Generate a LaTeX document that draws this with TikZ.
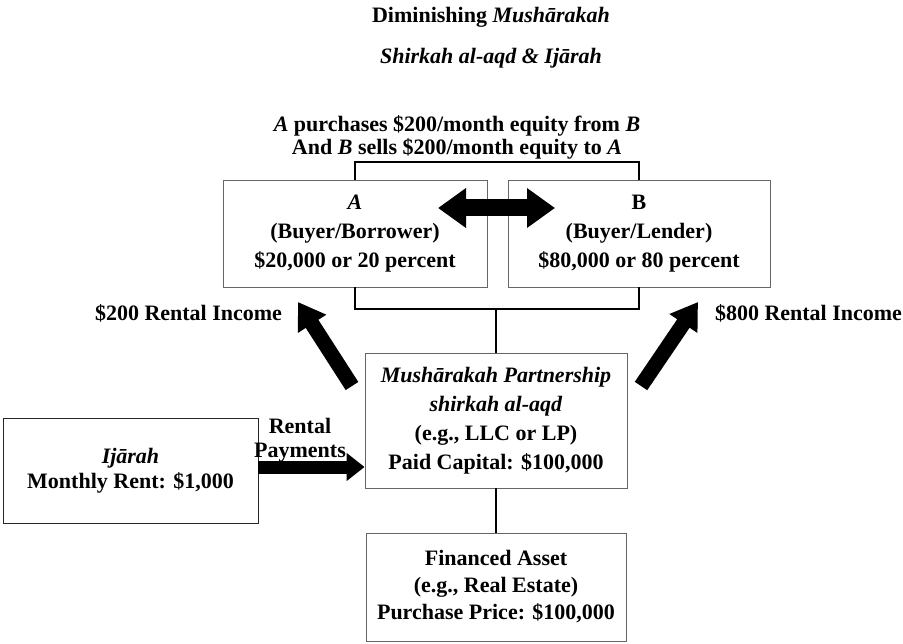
\documentclass[tikz,border=0pt]{standalone}
\usepackage{fontspec}
\setmainfont{Liberation Serif}
\usetikzlibrary{arrows.meta}
\begin{document}
\begin{tikzpicture}[x=1pt,y=-1pt,
  every node/.style={font=\fontsize{22}{29}\selectfont\bfseries, inner sep=0pt, align=center},
  box/.style={draw=black!60, line width=0.9pt, fill=white},
  conn/.style={line width=1.8pt},
  dblarrow/.style={line width=17pt, {Triangle[length=28pt,width=38pt]}-{Triangle[length=28pt,width=38pt]}},
  diagarrow/.style={line width=15pt, -{Triangle[length=26pt,width=32pt]}},
  payarrow/.style={line width=13pt, -{Triangle[length=18pt,width=27pt]}}
]
\useasboundingbox (0,0) rectangle (903,644);

% titles
\node (t1) at (491,17) {Diminishing \textit{Mushārakah}};
\node (t2) at (491,58) {\textit{Shirkah al-aqd \& Ijārah}};
\node[font=\fontsize{22}{23}\selectfont\bfseries] (t3) at (457,137.5)
  {\textit{A} purchases \$200/month equity from \textit{B}\\And \textit{B} sells \$200/month equity to \textit{A}};

% boxes
\node[box, minimum width=264pt, minimum height=107pt] (A) at (355,233.5)
  {\textit{A}\\(Buyer/Borrower)\\\$20,000 or 20 percent};
\node[box, minimum width=262pt, minimum height=107pt] (B) at (639,233.5)
  {B\\(Buyer/Lender)\\\$80,000 or 80 percent};
\node[box, minimum width=262pt, minimum height=135pt] (P) at (496,420.5)
  {\textit{Mushārakah Partnership}\\\textit{shirkah al-aqd}\\(e.g., LLC or LP)\\Paid Capital: \$100,000};
\node[box, minimum width=260pt, minimum height=108pt, font=\fontsize{22}{27}\selectfont\bfseries] (F) at (496,587)
  {Financed Asset\\(e.g., Real Estate)\\Purchase Price: \$100,000};
\node[box, draw=black!85, minimum width=255pt, minimum height=105pt, font=\fontsize{22}{25}\selectfont\bfseries] (I) at (130.5,470.5)
  {\textit{Ijārah}\\Monthly Rent: \$1,000};

% labels
\node (l200) at (188.5,313) {\$200 Rental Income};
\node (l800) at (808.5,313) {\$800 Rental Income};
\node[font=\fontsize{22}{24}\selectfont\bfseries] (lpay) at (300,440) {Rental\\Payments};

% connectors
\coordinate (tb) at (496,162);
\coordinate (bb) at (496,309);
\draw[conn] (A.north) |- (tb) -| (B.north);
\draw[conn] (A.south) |- (bb) -| (B.south);
\draw[conn] (bb) -- (P.north);
\draw[conn] (P.south) -- (F.north);

% block arrows
\coordinate (d1) at (438,208);
\coordinate (d2) at (555,208);
\draw[dblarrow] (d1) -- (d2);

\coordinate (la1) at (352,386);
\coordinate (la2) at (298,302);
\draw[diagarrow] (la1) -- (la2);

\coordinate (ra1) at (641,386);
\coordinate (ra2) at (698,302);
\draw[diagarrow] (ra1) -- (ra2);

\coordinate (pa1) at (258,467);
\draw[payarrow] (pa1) -- (P.west |- pa1);
\end{tikzpicture}
\end{document}
